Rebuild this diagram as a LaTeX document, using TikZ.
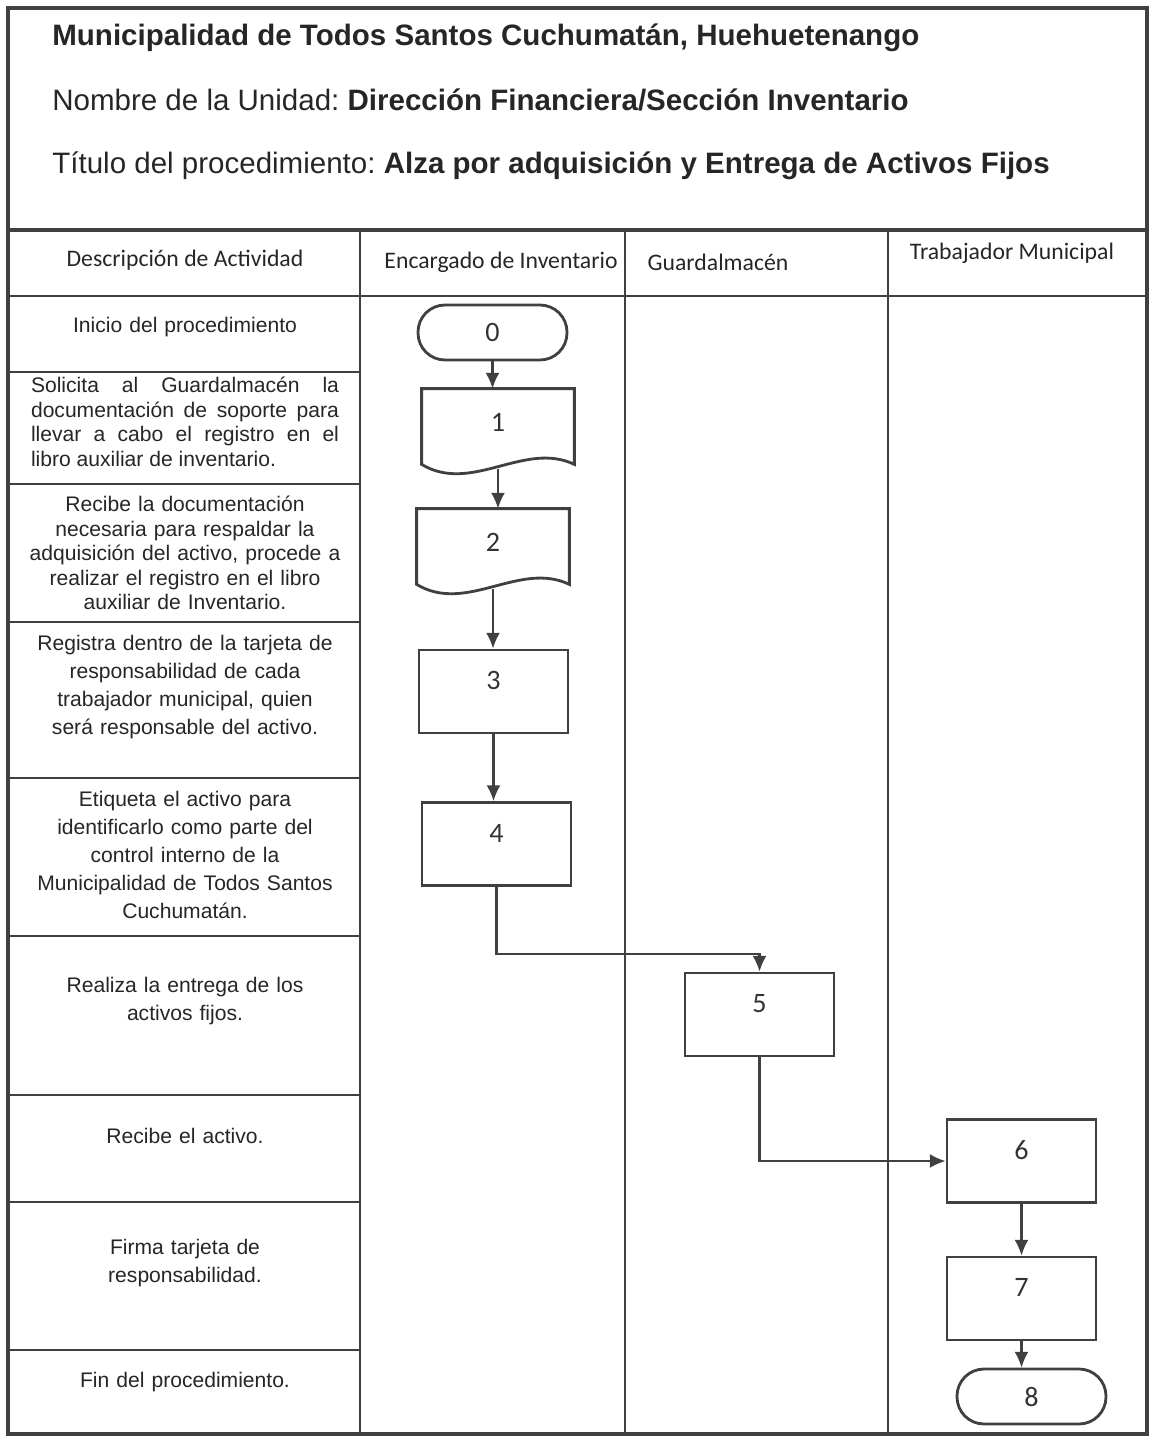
\documentclass[tikz,border=0pt]{standalone}
\usepackage{fontspec}
\setmainfont{Liberation Sans}
\newfontfamily\calib{Carlito}
\usetikzlibrary{arrows.meta,calc}
\hyphenpenalty=10000
\exhyphenpenalty=10000
\frenchspacing

\begin{document}
\begin{tikzpicture}[x=0.02cm, y=-0.02cm,
  grid/.style={draw=black!75, line width=1.6pt},
  rowline/.style={draw=black!75, line width=1.1pt},
  shp/.style={draw=black!75, line width=1.6pt, text=black!80, inner sep=0pt,
    font=\calib\fontsize{16}{18}\selectfont},
  term/.style={shp, rounded corners=0.54cm, minimum width=2.98cm, minimum height=1.1cm},
  proc/.style={shp, minimum width=2.98cm, minimum height=1.66cm,
    text height=0.36cm, text depth=0.44cm},
  docu/.style={shp, draw=none, minimum width=3cm, minimum height=1.56cm,
    text height=0.36cm, text depth=0.28cm},
  flow/.style={draw=black!75, line width=1.2pt, -{Latex[length=9pt,width=8pt]}},
  desc/.style={anchor=north, text width=6.6cm, align=center, inner sep=0pt,
    text=black!85, font=\fontsize{12}{13.9}\selectfont},
  lane/.style={inner sep=0pt, text=black!85, font=\calib\fontsize{13.5}{16}\selectfont},
  ttl/.style={anchor=base west, inner sep=0pt, text=black!85,
    font=\fontsize{16.8}{20}\selectfont}
]
\useasboundingbox (0,0) rectangle (1152,1437);

% frame and table
\draw[grid, line width=1.9pt] (8,8) rectangle (1147,1434);
\draw[grid, line width=2.2pt] (8,230) -- (1147,230);
\draw[grid] (8,296) -- (1147,296);
\foreach \x in {360,625,888}
  \draw[grid] (\x,230) -- (\x,1434);
\foreach \y in {372,484,622,778,936,1095,1202,1350}
  \draw[rowline] (8,\y) -- (360,\y);

% heading
\node[ttl] (title1) at (52,45) {\textbf{Municipalidad de Todos Santos Cuchumatán, Huehuetenango}};
\node[ttl] (title2) at (52,110) {Nombre de la Unidad: \textbf{Dirección Financiera/Sección Inventario}};
\node[ttl] (title3) at (52,173) {Título del procedimiento: \textbf{Alza por adquisición y Entrega de Activos Fijos}};

\node[lane] (hdesc) at (185,260) {Descripción de Actividad};
\node[lane] (henc) at (501,262) {Encargado de Inventario};
\node[lane] (hguard) at (718,262) {Guardalmacén};
\node[lane] (htrab) at (1012,253) {Trabajador Municipal};

% activities
\node[desc] (d0) at (185,317) {Inicio del procedimiento};
\node[desc, text width=6.16cm, align=justify] (d1) at (185,377) {Solicita al Guardalmacén la documentación de soporte para llevar a cabo el registro en el\linebreak libro auxiliar de inventario.};
\node[desc] (d2) at (185,496) {Recibe la documentación\\necesaria para respaldar la\\adquisición del activo, procede a\\realizar el registro en el libro\\auxiliar de Inventario.};
\node[desc, font=\fontsize{12}{15.9}\selectfont] (d3) at (185,635) {Registra dentro de la tarjeta de\\responsabilidad de cada\\trabajador municipal, quien\\será responsable del activo.};
\node[desc, font=\fontsize{12}{15.9}\selectfont] (d4) at (185,791) {Etiqueta el activo para\\identificarlo como parte del\\control interno de la\\Municipalidad de Todos Santos\\Cuchumatán.};
\node[desc, font=\fontsize{12}{15.9}\selectfont] (d5) at (185,977) {Realiza la entrega de los\\activos fijos.};
\node[desc] (d6) at (185,1128) {Recibe el activo.};
\node[desc, font=\fontsize{12}{15.9}\selectfont] (d7) at (185,1239) {Firma tarjeta de\\responsabilidad.};
\node[desc] (d8) at (185,1372) {Fin del procedimiento.};

% flow
\node[term] (p0) at (492.5,332.5) {0};
\node[docu] (p1) at (498,429) {1};
\node[docu] (p2) at (493,549) {2};
\node[proc] (p3) at (493.5,691.5) {3};
\node[proc] (p4) at (496.5,844) {4};
\node[proc] (p5) at (759.5,1014.5) {5};
\node[proc] (p6) at (1021.5,1161) {6};
\node[proc] (p7) at (1021.5,1298.5) {7};
\node[term] (p8) at (1031.5,1396.5) {8};

\foreach \d in {p1,p2}
  \draw[draw=black!75, line width=1.6pt] (\d.north west) -- (\d.north east)
    -- ($(\d.south east)+(0,-5)$)
    .. controls ($(\d.south east)+(-50,-29)$) and ($(\d.south west)+(50,25)$) ..
    ($(\d.south west)+(0,-5)$) -- cycle;

\draw[flow] (p0.south) -- (p0.south |- p1.north);
\draw[flow] (p1.south) -- (p1.south |- p2.north);
\draw[flow] (p2.south) -- (p2.south |- p3.north);
\draw[flow] (p3.south) -- (p3.south |- p4.north);
\draw[flow] (p4.south) -- ++(0,67) -| (p5.north);
\draw[flow] (p5.south) |- (p6.west);
\draw[flow] (p6.south) -- (p6.south |- p7.north);
\draw[flow] (p7.south) -- (p7.south |- p8.north);
\end{tikzpicture}
\end{document}
